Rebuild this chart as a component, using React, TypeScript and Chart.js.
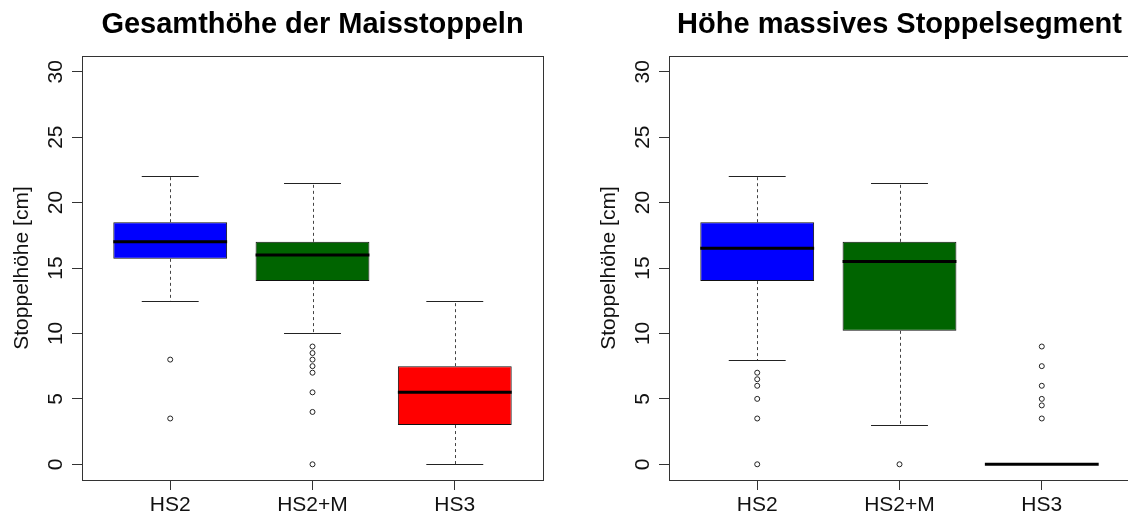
import React, { useEffect, useRef } from 'react';
import { Chart, registerables } from 'chart.js';

Chart.register(...registerables);

// ---------- data ----------
const categories = ['HS2', 'HS2+M', 'HS3'];
const categoryPositions = [1, 2, 3];
const yTickValues = [0, 5, 10, 15, 20, 25, 30];
const yAxisTitle = 'Stoppelhöhe [cm]';
const boxColors = ['#0000FF', '#006400', '#FF0000'];

// Panel 1: Gesamthöhe
const totalTitle = 'Gesamthöhe der Maisstoppeln';
const totalWhiskerLow = [12.5, 10, 0];
const totalQ1 = [15.7, 14, 3];
const totalMedian = [17, 16, 5.5];
const totalQ3 = [18.5, 17, 7.5];
const totalWhiskerHigh = [22, 21.5, 12.5];
const totalOutliers = [[8, 3.5], [9, 8.5, 8, 7.5, 7, 5.5, 4, 0], []];

// Panel 2: massives Segment
const solidTitle = 'Höhe massives Stoppelsegment';
const solidWhiskerLow = [8, 3, 0];
const solidQ1 = [14, 10.2, 0];
const solidMedian = [16.5, 15.5, 0];
const solidQ3 = [18.5, 17, 0];
const solidWhiskerHigh = [22, 21.5, 0];
const solidOutliers = [[7, 6.5, 6, 5, 3.5, 0], [0], [9, 7.5, 6, 5, 4.5, 3.5]];

// ---------- layout constants ----------
const FONT = '"Liberation Sans", Arial, Helvetica, sans-serif';
const PANEL_W = 587;
const PANEL_H = 515;

type Stats = {
  lo: number[];
  q1: number[];
  med: number[];
  q3: number[];
  hi: number[];
};

const crisp = (v: number) => Math.round(v) + 0.5;

const boxExtrasPlugin = {
  id: 'boxExtras',
  afterDatasetsDraw(chart: any, _args: any, opts: any) {
    const stats: Stats = opts.stats;
    if (!stats) return;
    const { ctx } = chart;
    const y = chart.scales.y;
    const meta = chart.getDatasetMeta(0);
    ctx.save();
    const line = (x1: number, y1: number, x2: number, y2: number) => {
      ctx.beginPath();
      ctx.moveTo(x1, y1);
      ctx.lineTo(x2, y2);
      ctx.stroke();
    };
    meta.data.forEach((bar: any, i: number) => {
      const cx = crisp(bar.x);
      const w = bar.width;
      const yLo = crisp(y.getPixelForValue(stats.lo[i]));
      const yQ1 = y.getPixelForValue(stats.q1[i]);
      const yMed = y.getPixelForValue(stats.med[i]);
      const yQ3 = y.getPixelForValue(stats.q3[i]);
      const yHi = crisp(y.getPixelForValue(stats.hi[i]));
      // dashed whiskers
      ctx.lineWidth = 1;
      ctx.strokeStyle = '#444';
      ctx.setLineDash([3, 3]);
      line(cx, yQ3, cx, yHi);
      line(cx, yQ1, cx, yLo);
      ctx.setLineDash([]);
      // staples
      ctx.strokeStyle = '#222';
      line(bar.x - w / 4, yHi, bar.x + w / 4, yHi);
      line(bar.x - w / 4, yLo, bar.x + w / 4, yLo);
      // median
      ctx.lineWidth = 3;
      ctx.strokeStyle = '#000';
      line(bar.x - w / 2, yMed, bar.x + w / 2, yMed);
    });
    ctx.restore();
  },
};

const frameTextPlugin = {
  id: 'frameText',
  afterDraw(chart: any, _args: any, opts: any) {
    const { ctx, chartArea } = chart;
    const y = chart.scales.y;
    ctx.save();
    // plot frame
    ctx.lineWidth = 1;
    ctx.strokeStyle = '#333';
    ctx.strokeRect(
      crisp(chartArea.left),
      crisp(chartArea.top),
      Math.round(chartArea.right) - Math.round(chartArea.left),
      Math.round(chartArea.bottom) - Math.round(chartArea.top)
    );
    // y tick labels (rotated, R style)
    ctx.fillStyle = '#111';
    ctx.font = `21px ${FONT}`;
    ctx.textAlign = 'center';
    ctx.textBaseline = 'alphabetic';
    y.ticks.forEach((t: any) => {
      const py = y.getPixelForValue(t.value);
      ctx.save();
      ctx.translate(chartArea.left - 20.5, py);
      ctx.rotate(-Math.PI / 2);
      ctx.fillText(String(t.value), 0, 0);
      ctx.restore();
    });
    // y axis title
    ctx.save();
    ctx.translate(28, (chartArea.top + chartArea.bottom) / 2);
    ctx.rotate(-Math.PI / 2);
    ctx.fillText(opts.yTitle, 0, 0);
    ctx.restore();
    // main title
    ctx.font = `bold 29px ${FONT}`;
    ctx.fillStyle = '#000';
    ctx.fillText(opts.title, (chartArea.left + chartArea.right) / 2, 33);
    ctx.restore();
  },
};

type PanelProps = {
  title: string;
  lo: number[];
  q1: number[];
  med: number[];
  q3: number[];
  hi: number[];
  outliers: number[][];
  left: number;
};

function BoxPanel(props: PanelProps) {
  const ref = useRef<HTMLCanvasElement | null>(null);
  useEffect(() => {
    if (!ref.current) return;
    const boxData = categoryPositions.map((pos, i) => ({ x: pos, y: [props.q1[i], props.q3[i]] }));
    const outlierData: { x: number; y: number }[] = [];
    props.outliers.forEach((vals, i) => {
      vals.forEach((v) => outlierData.push({ x: categoryPositions[i], y: v }));
    });
    const chart = new Chart(ref.current, {
      type: 'bar',
      data: {
        datasets: [
          {
            type: 'bar',
            data: boxData as any,
            backgroundColor: boxColors,
            borderColor: '#111',
            borderWidth: 1,
            borderSkipped: false,
            barPercentage: 0.8,
            categoryPercentage: 1,
          } as any,
          {
            type: 'scatter',
            data: outlierData,
            pointRadius: 2.5,
            pointBorderWidth: 1,
            pointBorderColor: '#222',
            pointBackgroundColor: '#fff',
            pointHoverRadius: 2.5,
          } as any,
        ],
      },
      options: {
        animation: false,
        responsive: false,
        events: [],
        layout: { padding: { top: 56, right: 44, left: 0, bottom: 0 } },
        plugins: {
          legend: { display: false },
          tooltip: { enabled: false },
          title: { display: false },
          boxExtras: { stats: { lo: props.lo, q1: props.q1, med: props.med, q3: props.q3, hi: props.hi } },
          frameText: { title: props.title, yTitle: yAxisTitle },
        } as any,
        scales: {
          x: {
            type: 'linear',
            min: 0.38,
            max: 3.62,
            offset: false,
            afterBuildTicks: (s: any) => {
              s.ticks = categoryPositions.map((v) => ({ value: v }));
            },
            afterFit: (s: any) => {
              s.height = 35;
            },
            grid: {
              display: true,
              offset: false,
              drawOnChartArea: false,
              drawTicks: true,
              tickLength: 10,
              color: '#333',
            },
            border: { display: false },
            ticks: {
              padding: 3,
              color: '#111',
              font: { size: 21, family: FONT },
              maxRotation: 0,
              autoSkip: false,
              callback: (value: any) => {
                const idx = categoryPositions.indexOf(Number(value));
                return idx >= 0 ? categories[idx] : '';
              },
            },
          },
          y: {
            type: 'linear',
            min: -1.2,
            max: 31.2,
            afterBuildTicks: (s: any) => {
              s.ticks = yTickValues.map((v) => ({ value: v }));
            },
            afterFit: (s: any) => {
              s.width = 82;
            },
            grid: {
              display: true,
              drawOnChartArea: false,
              drawTicks: true,
              tickLength: 10,
              color: '#333',
            },
            border: { display: false },
            ticks: { display: false },
          },
        },
      },
      plugins: [boxExtrasPlugin, frameTextPlugin],
    });
    return () => chart.destroy();
  }, []);
  return (
    <canvas
      ref={ref}
      width={PANEL_W}
      height={PANEL_H}
      style={{ position: 'absolute', left: props.left, top: 0, width: PANEL_W, height: PANEL_H }}
    />
  );
}

export default function App() {
  return (
    <div
      style={{
        position: 'absolute',
        left: 0,
        top: 0,
        width: 1128,
        height: 515,
        overflow: 'hidden',
        background: '#fff',
      }}
    >
      <BoxPanel
        title={totalTitle}
        lo={totalWhiskerLow}
        q1={totalQ1}
        med={totalMedian}
        q3={totalQ3}
        hi={totalWhiskerHigh}
        outliers={totalOutliers}
        left={0}
      />
      <BoxPanel
        title={solidTitle}
        lo={solidWhiskerLow}
        q1={solidQ1}
        med={solidMedian}
        q3={solidQ3}
        hi={solidWhiskerHigh}
        outliers={solidOutliers}
        left={PANEL_W}
      />
    </div>
  );
}
